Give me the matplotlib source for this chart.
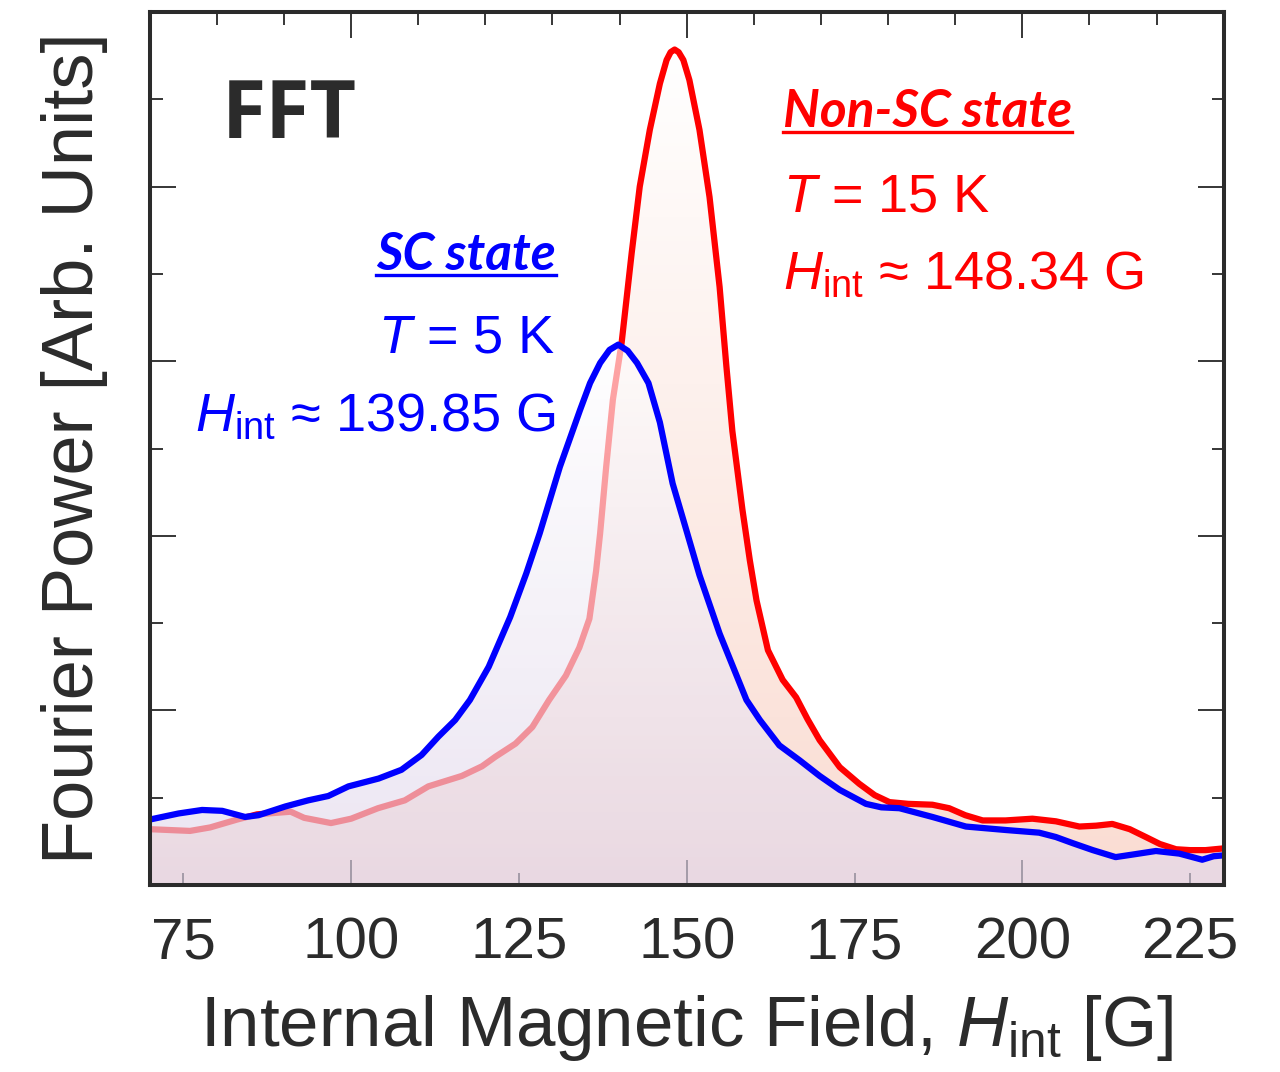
import numpy as np
import matplotlib
matplotlib.use("Agg")
import matplotlib.pyplot as plt
from matplotlib.lines import Line2D
from matplotlib.transforms import IdentityTransform

plt.rcParams['font.family'] = ['Liberation Sans', 'DejaVu Sans']
plt.rcParams['mathtext.fontset'] = 'custom'
plt.rcParams['mathtext.rm'] = 'Liberation Sans'
plt.rcParams['mathtext.it'] = 'Liberation Sans:italic'

# Non-SC state (T = 15 K)
red_x = [70, 73, 76, 79, 83, 86, 91, 93, 97, 100, 104, 108, 111.5, 116.5, 119.5,
         121.5, 124.5, 127, 129.5, 132, 134, 135.5, 136.5, 137.1, 138, 139, 140.3,
         141.8, 143, 144.5, 146, 147, 147.6, 148.2, 148.8, 149.5, 150.4, 151.9,
         153.4, 154.9, 155.9, 156.8, 158.3, 159.4, 160.4, 162.1, 164.3, 166.3,
         168, 169.8, 172.8, 175.7, 178, 180.2, 183, 186.6, 189.1, 191.5, 194.1,
         197.5, 201.5, 205, 208.5, 211, 213.4, 216, 218.4, 220.5, 222.9, 225,
         227.3, 230]
red_y = [0.64, 0.63, 0.62, 0.66, 0.75, 0.81, 0.84, 0.77, 0.71, 0.76, 0.88, 0.97,
         1.13, 1.25, 1.36, 1.47, 1.62, 1.81, 2.12, 2.40, 2.72, 3.05, 3.60, 4.03,
         4.79, 5.56, 6.21, 7.24, 8.00, 8.65, 9.18, 9.45, 9.54, 9.57, 9.54, 9.45,
         9.22, 8.65, 7.88, 6.85, 5.95, 5.20, 4.30, 3.72, 3.26, 2.69, 2.35, 2.15,
         1.90, 1.66, 1.35, 1.16, 1.03, 0.95, 0.93, 0.92, 0.88, 0.80, 0.74, 0.74,
         0.76, 0.73, 0.67, 0.68, 0.70, 0.64, 0.55, 0.47, 0.41, 0.40, 0.40, 0.42]

# SC state (T = 5 K)
blue_x = [70, 74.3, 77.8, 80.8, 84.2, 86.2, 90.2, 93.6, 96.6, 99.6, 104.1, 107.5,
          110.5, 113, 115.5, 117.7, 120.5, 123.7, 126.1, 128.1, 131.1, 134.1,
          135.6, 137.1, 138.5, 139.8, 141.2, 142.6, 144.3, 146, 147.9, 150,
          151.9, 154.9, 158.9, 160.9, 163.8, 166.8, 169.8, 172.8, 176.7, 179,
          181.7, 186.6, 191.6, 197.6, 202.5, 205, 207.5, 210.5, 213.9, 216.5,
          219.9, 223.4, 226.8, 228.5, 230]
blue_y = [0.75, 0.82, 0.86, 0.85, 0.78, 0.80, 0.90, 0.97, 1.02, 1.13, 1.22, 1.32,
          1.49, 1.70, 1.89, 2.12, 2.50, 3.07, 3.57, 4.03, 4.79, 5.44, 5.75, 5.98,
          6.13, 6.19, 6.12, 5.98, 5.75, 5.30, 4.60, 4.05, 3.55, 2.88, 2.12, 1.89,
          1.60, 1.43, 1.25, 1.09, 0.93, 0.89, 0.88, 0.78, 0.67, 0.63, 0.60, 0.55,
          0.48, 0.40, 0.32, 0.35, 0.39, 0.36, 0.29, 0.33, 0.34]

x_labels = [75, 100, 125, 150, 175, 200, 225]

dark = '#2b2b2b'
fig = plt.figure(figsize=(12.8, 10.72), dpi=100)
ax = fig.add_axes([0.117, 0.1744, 0.839, 0.8144])


def gradient_fill(xs, ys, top, bottom_rgb, alpha, z):
    poly = ax.fill_between(xs, ys, 0, facecolor='none', edgecolor='none')
    t = np.linspace(0, 1, 256)[:, None]
    rgb = np.array(bottom_rgb) / 255.0
    img = np.ones((256, 1, 4))
    img[:, :, :3] = rgb + (1 - rgb) * t[:, :, None]
    img[:, :, 3] = alpha
    im = ax.imshow(img, extent=[70, 230, 0, top], origin='lower', aspect='auto',
                   interpolation='bilinear', zorder=z)
    im.set_clip_path(poly.get_paths()[0], poly.get_transform())


gradient_fill(red_x, red_y, max(red_y), (250, 220, 210), 1.0, 1)
ax.plot(red_x, red_y, color='#ff0000', lw=4.5, zorder=2,
        solid_joinstyle='round', solid_capstyle='round')
gradient_fill(blue_x, blue_y, max(blue_y), (225, 215, 235), 0.65, 3)
ax.plot(blue_x, blue_y, color='#0000ff', lw=4.5, zorder=4,
        solid_joinstyle='round', solid_capstyle='round')

ax.set_xlim(70, 230)
ax.set_ylim(0, 10)

for s in ax.spines.values():
    s.set_linewidth(2.9)
    s.set_color(dark)
    s.set_zorder(6)

# bottom: long ticks every 50, short in between, all labelled
major_lab = [v for v in x_labels if v % 50 == 0]
minor_lab = [v for v in x_labels if v % 50 != 0]
ax.set_xticks(major_lab)
ax.set_xticks(minor_lab, minor=True)
ax.set_xticklabels([str(v) for v in major_lab])
ax.set_xticklabels([str(v) for v in minor_lab], minor=True)
ax.tick_params(axis='x', which='both', direction='in', width=1.1, color='black',
               labelsize=42, labelcolor=dark, pad=23)
ax.tick_params(axis='x', which='major', length=18)
ax.tick_params(axis='x', which='minor', length=9)

ax.set_yticks(np.arange(0, 11, 2))
ax.set_yticks(np.arange(1, 10, 2), minor=True)
ax.tick_params(axis='y', which='both', direction='in', width=1.1, color='black',
               left=True, right=True, labelleft=False)
ax.tick_params(axis='y', which='major', length=19)
ax.tick_params(axis='y', which='minor', length=9)

top = ax.secondary_xaxis('top')
top.set_xticks([100, 150, 200])
top.set_xticks(np.arange(80, 230, 10), minor=True)
top.tick_params(which='both', direction='in', width=1.1, color='black',
                labeltop=False)
top.tick_params(which='major', length=19)
top.tick_params(which='minor', length=9)
top.spines['top'].set_visible(False)

ax.set_xlabel(r'Internal Magnetic Field, $\mathit{H}_{\mathrm{int}}$ [G]',
              fontsize=51, color=dark, labelpad=16)
ax.set_ylabel('Fourier Power [Arb. Units]', fontsize=52, color=dark, labelpad=30)

ax.text(0.067, 0.8557, 'FFT', transform=ax.transAxes, fontsize=58,
        fontweight='bold', family=['Open Sans', 'DejaVu Sans'], color=dark,
        va='baseline', ha='left', zorder=7)

blue_head = ax.text(0.378, 0.7045, 'SC state', transform=ax.transAxes,
                    fontsize=37, fontweight='bold', fontstyle='italic',
                    family=['Lato', 'DejaVu Sans'], color='#0000ff',
                    ha='right', va='baseline', zorder=7)
ax.text(0.378, 0.6105, r'$\mathit{T}$ = 5 K', transform=ax.transAxes, fontsize=39,
        color='#0000ff', ha='right', va='baseline', zorder=7)
ax.text(0.378, 0.521, r'$\mathit{H}_{\mathrm{int}}$ ≈ 139.85 G', transform=ax.transAxes,
        fontsize=39, color='#0000ff', ha='right', va='baseline', zorder=7)

red_head = ax.text(0.5894, 0.868, 'Non-SC state', transform=ax.transAxes,
                   fontsize=37, fontweight='bold', fontstyle='italic',
                   family=['Lato', 'DejaVu Sans'], color='#ff0000',
                   ha='left', va='baseline', zorder=7)
ax.text(0.5894, 0.772, r'$\mathit{T}$ = 15 K', transform=ax.transAxes, fontsize=39,
        color='#ff0000', ha='left', va='baseline', zorder=7)
ax.text(0.5894, 0.683, r'$\mathit{H}_{\mathrm{int}}$ ≈ 148.34 G', transform=ax.transAxes,
        fontsize=39, color='#ff0000', ha='left', va='baseline', zorder=7)

# underline the two headings
fig.canvas.draw()
renderer = fig.canvas.get_renderer()
for t, c in [(blue_head, '#0000ff'), (red_head, '#ff0000')]:
    bb = t.get_window_extent(renderer)
    base = ax.transAxes.transform(t.get_position())[1]
    fig.add_artist(Line2D([bb.x0, bb.x1], [base - 5, base - 5], color=c, lw=2.4,
                          transform=IdentityTransform()))

fig.savefig('out.png', dpi=100)
